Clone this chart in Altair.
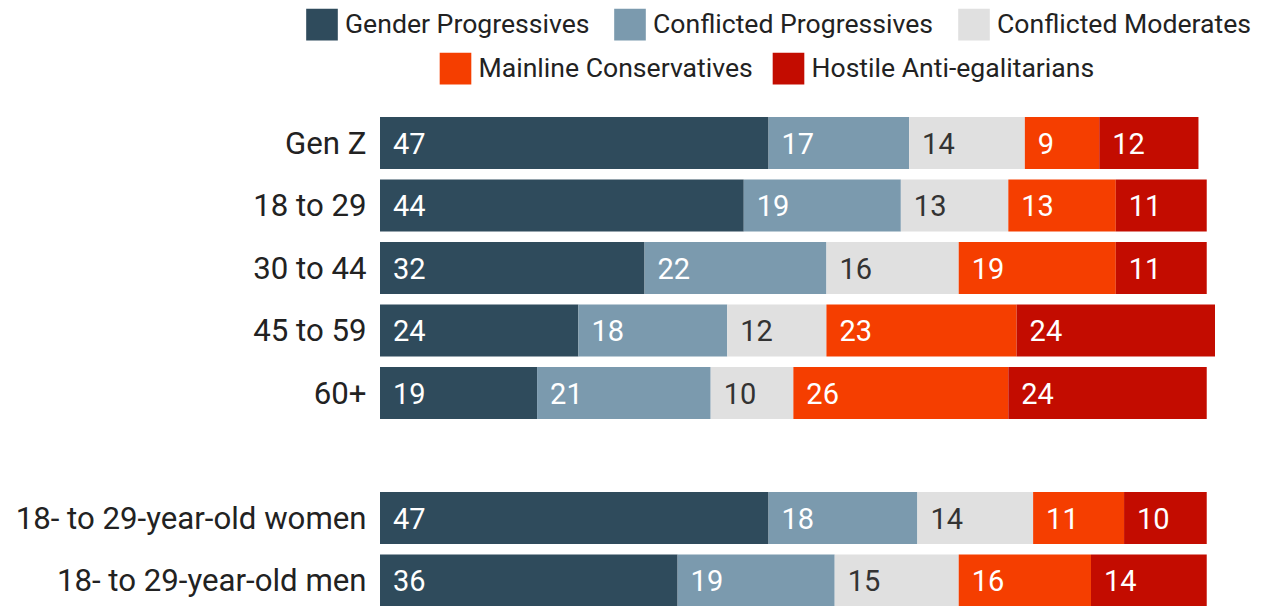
import altair as alt
import pandas as pd

rows = ["Gen Z", "18 to 29", "30 to 44", "45 to 59", "60+",
        "18- to 29-year-old women", "18- to 29-year-old men"]
groups = ["Gender Progressives", "Conflicted Progressives", "Conflicted Moderates",
          "Mainline Conservatives", "Hostile Anti-egalitarians"]
colors = ["#2f4b5c", "#7b9aae", "#e0e0e0", "#f53e00", "#c30c00"]

gender_prog = [47, 44, 32, 24, 19, 47, 36]
conf_prog = [17, 19, 22, 18, 21, 18, 19]
conf_mod = [14, 13, 16, 12, 10, 14, 15]
mainline = [9, 13, 19, 23, 26, 11, 16]
hostile = [12, 11, 11, 24, 24, 10, 14]

series = [gender_prog, conf_prog, conf_mod, mainline, hostile]
records = []
for gi, (g, vals) in enumerate(zip(groups, series)):
    for r, v in zip(rows, vals):
        records.append({"row": r, "group": g, "order": gi, "value": v})
df = pd.DataFrame(records)

y_domain = rows[:5] + [" "] + rows[5:]
FONT = "Roboto"

base = alt.Chart(df).transform_stack(
    stack="value", groupby=["row"], as_=["x0", "x1"], sort=[alt.SortField("order")]
)

x_enc = alt.X("x0:Q", scale=alt.Scale(domain=[0, 101], nice=False, zero=True), axis=None)
y_enc = alt.Y("row:N", scale=alt.Scale(domain=y_domain, paddingInner=0.168, paddingOuter=0.084),
              axis=alt.Axis(title=None, ticks=False, domain=False, labelFontSize=31.2,
                            labelFont=FONT, labelColor="#222222", labelPadding=14,
                            labelLimit=500, labelOffset=1.5))

def legend(x, y, pad):
    return alt.Legend(title=None, orient="none", legendX=x, legendY=y, direction="horizontal",
                      symbolType="square", symbolSize=1000, symbolStrokeWidth=0,
                      symbolOpacity=1, labelFontSize=26.6, labelFont=FONT, labelColor="#222222",
                      labelOffset=7, columnPadding=pad, labelLimit=500)

bars_a = base.transform_filter(
    alt.FieldOneOfPredicate(field="group", oneOf=groups[:3])
).mark_bar().encode(
    x=x_enc, x2="x1:Q", y=y_enc,
    color=alt.Color("group:N", scale=alt.Scale(domain=groups[:3], range=colors[:3]),
                    legend=legend(-74, -103.25, 24)),
)

bars_b = base.transform_filter(
    alt.FieldOneOfPredicate(field="group", oneOf=groups[3:])
).mark_bar().encode(
    x=x_enc, x2="x1:Q", y=y_enc,
    color=alt.Color("group:N", scale=alt.Scale(domain=groups[3:], range=colors[3:]),
                    legend=legend(59.5, -59.25, 19)),
)

labels = base.mark_text(align="left", baseline="middle", dx=13, dy=1.5, fontSize=29,
                        font=FONT).encode(
    x=x_enc, y=y_enc,
    text=alt.Text("value:Q"),
    color=alt.condition(alt.datum.group == "Conflicted Moderates",
                        alt.value("#333333"), alt.value("#ffffff")),
)

chart = alt.layer(bars_a, bars_b, labels).resolve_scale(color="independent").properties(
    width=835, height=500,
    autosize=alt.AutoSizeParams(type="none"),
    padding={"left": 372, "top": 103.75, "right": 50, "bottom": 0},
).configure_view(stroke=None)

chart.save("out.html", embed_options={"renderer": "svg", "actions": False})
